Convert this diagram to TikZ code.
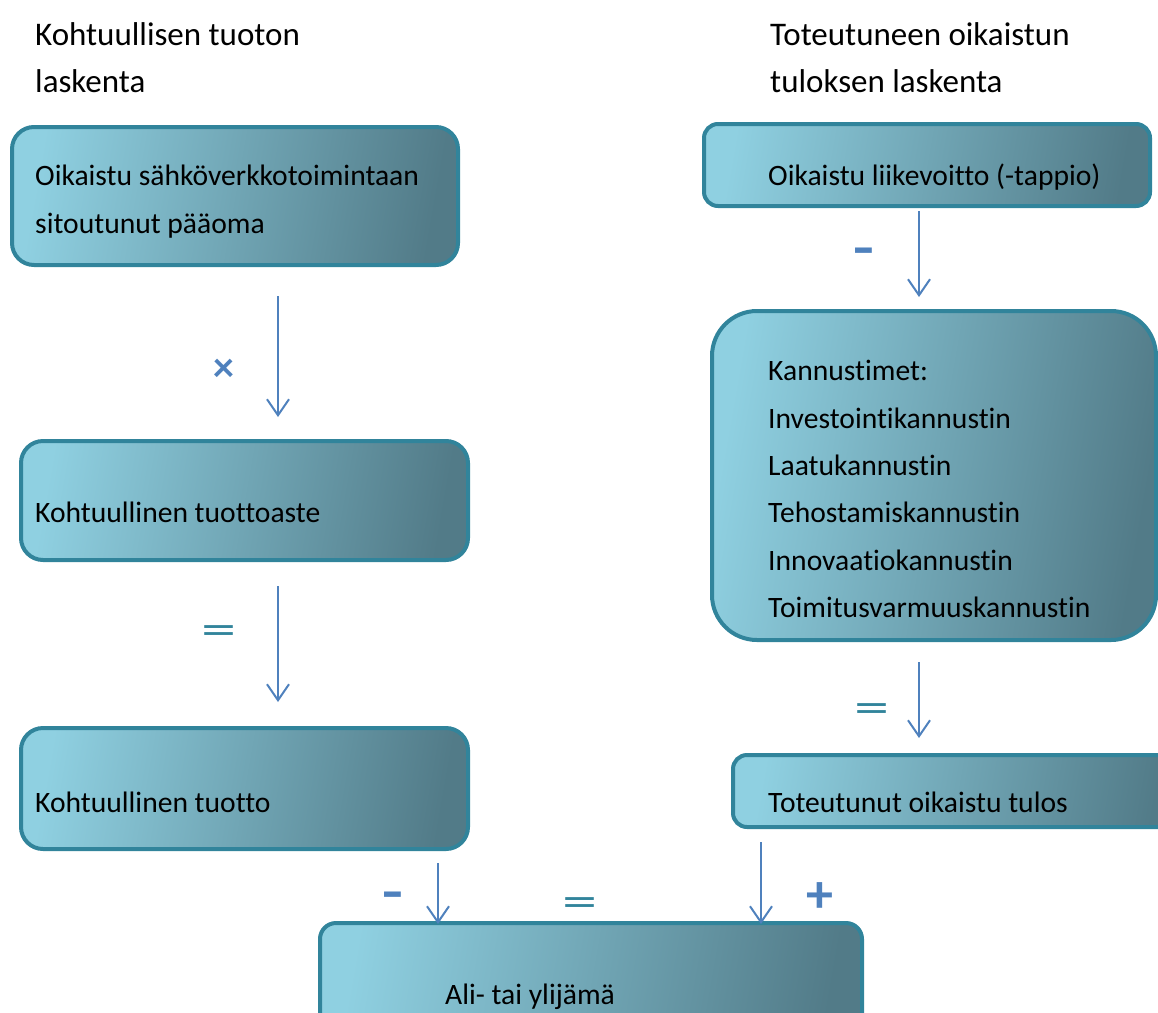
\documentclass[tikz,border=0pt]{standalone}
\usepackage{fontspec}
\usepackage{graphicx}
\setmainfont{Carlito}[Ligatures=CommonOff]
\usetikzlibrary{arrows.meta,calc}
\definecolor{bordc}{HTML}{31849B}
\definecolor{fillA}{HTML}{8FD0E1}
\definecolor{fillM}{HTML}{7CB8C8}
\definecolor{fillB}{HTML}{527B88}
\definecolor{arrc}{HTML}{4F81BD}
\begin{document}
\begin{tikzpicture}[x=1pt,y=-1pt,
  box/.style={draw=bordc, line width=4pt, left color=fillA, middle color=fillM, right color=fillB, shading angle=80, inner sep=0pt, anchor=north west},
  txt/.style={anchor=base west, inner sep=0pt, font=\fontsize{29.6}{29.6}\selectfont},
  head/.style={anchor=base west, inner sep=0pt, font=\fontsize{33}{33}\selectfont},
  arr/.style={draw=arrc, line width=2pt, -{Straight Barb[length=16pt,width=22pt]}},
  opb/.style={text=arrc, font=\fontsize{40}{40}\bfseries\selectfont, inner sep=0pt},
  opt/.style={text=bordc, font=\fontsize{44}{44}\selectfont, inner sep=0pt}]
\useasboundingbox (0,0) rectangle (1158,1012);
\clip (0,0) rectangle (1158,1012);

% headers
\node[head] (h1) at (35,45) {Kohtuullisen tuoton};
\node[head] (h2) at (35,92) {laskenta};
\node[head] (h3) at (770,45) {Toteutuneen oikaistun};
\node[head] (h4) at (770,92) {tuloksen laskenta};

% boxes
\node[box, rounded corners=22pt, minimum width=446pt, minimum height=138pt] (A) at (10,125) {};
\node[box, rounded corners=22pt, minimum width=447pt, minimum height=119pt] (B) at (19,439) {};
\node[box, rounded corners=22pt, minimum width=447pt, minimum height=121pt] (C) at (19,726) {};
\node[box, rounded corners=14pt, minimum width=446pt, minimum height=82pt] (D) at (702,122) {};
\node[box, rounded corners=45pt, minimum width=444pt, minimum height=329pt] (E) at (710,309) {};
\node[box, rounded corners=14pt, minimum width=450pt, minimum height=72pt] (F) at (731,753) {};
\node[box, rounded corners=16pt, minimum width=542pt, minimum height=120pt] (G) at (318,921) {};

% box texts
\node[txt] (tA1) at (35,185) {Oikaistu sähköverkkotoimintaan};
\node[txt] (tA2) at (35,233) {sitoutunut pääoma};
\node[txt] (tB) at (35,522) {Kohtuullinen tuottoaste};
\node[txt] (tC) at (35,812) {Kohtuullinen tuotto};
\node[txt] (tD) at (768,185) {Oikaistu liikevoitto (-tappio)};
\node[txt] (tE1) at (768,380) {Kannustimet:};
\node[txt] (tE2) at (768,428) {Investointikannustin};
\node[txt] (tE3) at (768,475) {Laatukannustin};
\node[txt] (tE4) at (768,522) {Tehostamiskannustin};
\node[txt] (tE5) at (768,570) {Innovaatiokannustin};
\node[txt] (tE6) at (768,617) {Toimitusvarmuuskannustin};
\node[txt] (tF) at (768,812) {Toteutunut oikaistu tulos};
\node[txt] (tG) at (445,1004) {Ali- tai ylijämä};

% arrow x positions
\coordinate (xl) at (278,0);
\coordinate (xr) at (919,0);
\coordinate (xgl) at (438,0);
\coordinate (xgr) at (761,0);

\draw[arr, shorten <=29pt, shorten >=22pt] (A.south -| xl) -- (B.north -| xl);
\draw[arr, shorten <=24pt, shorten >=24pt] (B.south -| xl) -- (C.north -| xl);
\draw[arr, shorten <=3pt, shorten >=12pt] (D.south -| xr) -- (E.north -| xr);
\draw[arr, shorten <=20pt, shorten >=15pt] (E.south -| xr) -- (F.north -| xr);
\draw[arr, shorten <=12pt, shorten >=-3pt] (C.south -| xgl) -- (G.north -| xgl);
\draw[arr, shorten <=13pt, shorten >=-3pt] (F.south -| xgr) -- (G.north -| xgr);

% operators
\node[opb] (o1) at (224,370) {\scalebox{1.05}{×}};
\node[opt] (o2) at (219,635) {\scalebox{1.6}[1]{=}};
\node[opb] (o3) at (864,257) {\scalebox{1.7}[1.3]{-}};
\node[opt] (o4) at (872,713) {\scalebox{1.6}[1]{=}};
\node[opb] (o5) at (393,901) {\scalebox{1.7}[1.3]{-}};
\node[opt] (o6) at (580,907) {\scalebox{1.6}[1]{=}};
\node[opb] (o7) at (820,898) {\scalebox{1.35}{+}};
\end{tikzpicture}
\end{document}
